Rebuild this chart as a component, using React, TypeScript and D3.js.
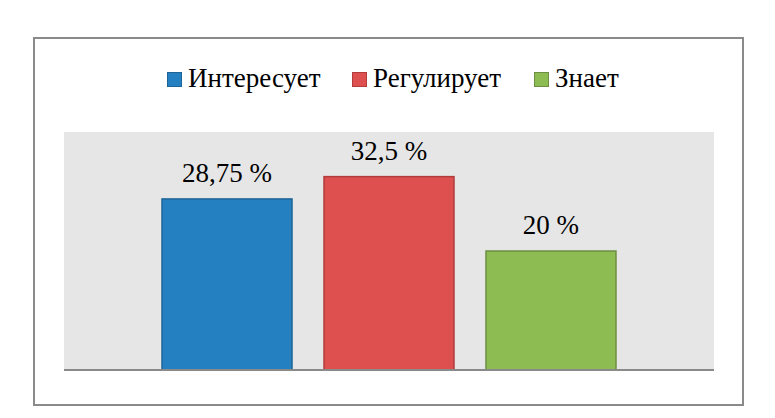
import React, { useRef, useEffect } from "react";
import * as d3 from "d3";

// data
const seriesNames = ["Интересует", "Регулирует", "Знает"];
const seriesValues = [28.75, 32.5, 20];
const valueLabels = ["28,75 %", "32,5 %", "20 %"];
const fillColors = ["#2480C1", "#DE4F4F", "#8DBC52"];
const strokeColors = ["#1D6596", "#B23C3C", "#6E8F43"];

const W = 775;
const H = 418;
const plot = { left: 64, right: 714, top: 132, bottom: 370 };
const font = "Liberation Serif, Tinos, Times New Roman, DejaVu Serif, serif";

export default function App() {
    const svgRef = useRef<SVGSVGElement>(null);

    useEffect(() => {
        if (!svgRef.current) return;
        const svg = d3.select(svgRef.current);
        svg.selectAll("*").remove();

        // outer chart border
        svg.append("rect")
            .attr("x", 34).attr("y", 38)
            .attr("width", 709).attr("height", 367)
            .attr("fill", "#fff")
            .attr("stroke", "#8a8a8a")
            .attr("stroke-width", 2);

        // plot area
        svg.append("rect")
            .attr("x", plot.left).attr("y", plot.top)
            .attr("width", plot.right - plot.left)
            .attr("height", plot.bottom - plot.top)
            .attr("fill", "#e6e6e6");

        const x = d3.scaleBand<string>()
            .domain(seriesNames)
            .range([plot.left, plot.right])
            .paddingInner(0.1975)
            .paddingOuter(0.605);

        const y = d3.scaleLinear().domain([0, 40]).range([plot.bottom, plot.top]);

        const bars = svg.append("g");
        bars.selectAll("rect")
            .data(seriesValues)
            .join("rect")
            .attr("x", (_, i) => x(seriesNames[i])!)
            .attr("y", d => y(d))
            .attr("width", x.bandwidth())
            .attr("height", d => y(0) - y(d))
            .attr("fill", (_, i) => fillColors[i])
            .attr("stroke", (_, i) => strokeColors[i])
            .attr("stroke-width", 1.5);

        // value labels
        svg.append("g").selectAll("text")
            .data(seriesValues)
            .join("text")
            .attr("x", (_, i) => x(seriesNames[i])! + x.bandwidth() / 2)
            .attr("y", d => y(d) - 17)
            .attr("text-anchor", "middle")
            .attr("font-family", font)
            .attr("font-size", 27)
            .attr("fill", "#000")
            .text((_, i) => valueLabels[i]);

        // axis baseline
        svg.append("line")
            .attr("x1", plot.left).attr("x2", plot.right)
            .attr("y1", y(0)).attr("y2", y(0))
            .attr("stroke", "#8a8a8a")
            .attr("stroke-width", 2);

        // legend
        const legendX = [167, 352, 534];
        const legend = svg.append("g").selectAll("g")
            .data(seriesNames)
            .join("g")
            .attr("transform", (_, i) => `translate(${legendX[i]},72)`);
        legend.append("rect")
            .attr("x", 0.5).attr("y", 0.5)
            .attr("width", 14).attr("height", 14)
            .attr("fill", (_, i) => fillColors[i])
            .attr("stroke", (_, i) => strokeColors[i])
            .attr("stroke-width", 1);
        legend.append("text")
            .attr("x", 21)
            .attr("y", 15)
            .attr("font-family", font)
            .attr("font-size", 27)
            .attr("fill", "#000")
            .text(d => d);
    }, []);

    return (
        <svg
            ref={svgRef}
            width={W}
            height={H}
            style={{ position: "absolute", left: 0, top: 0, display: "block", background: "#fff" }}
        />
    );
}
